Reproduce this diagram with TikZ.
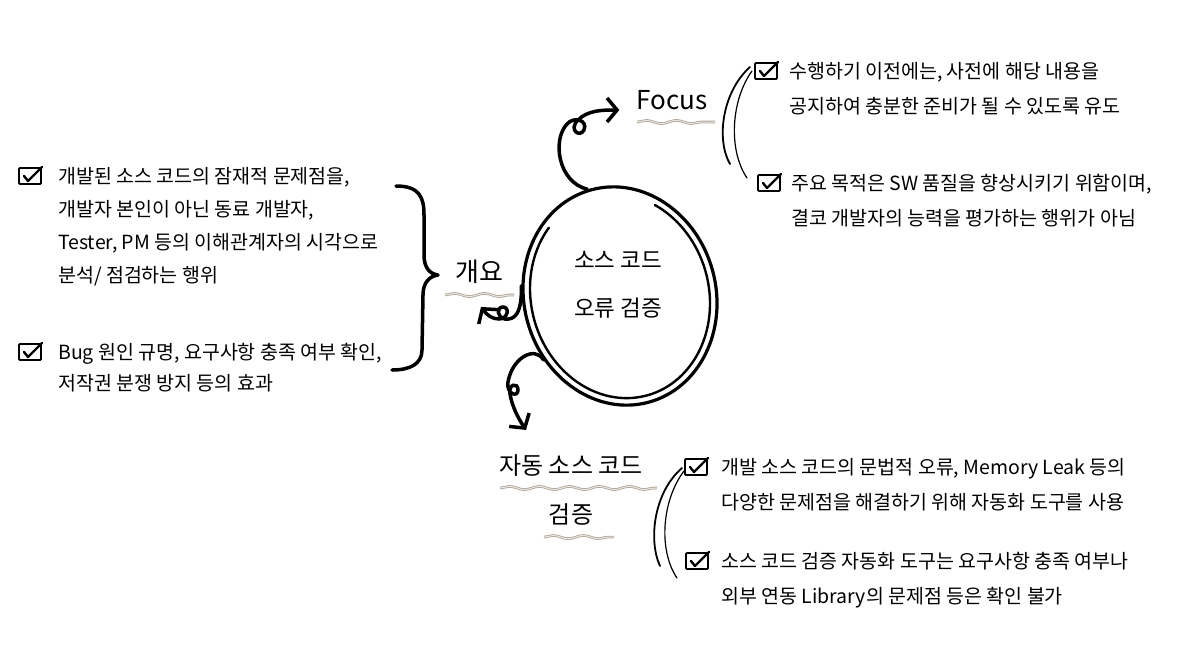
\documentclass[tikz,border=0pt]{standalone}
\usepackage{fontspec}
\setmainfont{Noto Sans CJK KR}
\usepackage{tikz}
\usetikzlibrary{
    calc,positioning,arrows.meta,shapes.geometric,%
    decorations.pathmorphing
}
\definecolor{wavegray}{RGB}{176,162,148}
\tikzset{
    core/.style={ellipse, draw=black, line width=3.2pt, minimum width=192pt, minimum height=220pt, inner sep=0pt, rotate=15},
    title/.style={align=center, inner sep=0pt, font=\fontsize{22.5}{48}\selectfont},
    topic/.style={inner sep=2pt, font=\fontsize{24}{28}\selectfont},
    item/.style={anchor=north west, inner sep=0pt, align=left, font=\fontsize{19.5}{#1}\selectfont},
    item/.default=34,
    chk/.style={rectangle, draw=black, line width=1.8pt, rounded corners=1pt, minimum width=22pt, minimum height=16pt, inner sep=0pt},
    tickmark/.style={line width=2.4pt, line cap=round, line join=round},
    line/.style={-{Straight Barb[length=10pt,width=24pt]}, line width=3.5pt, line cap=round},
    ring/.style={line width=2.4pt, line cap=round},
    arcline/.style={line width=1.8pt, line cap=round},
    bracepath/.style={line width=3.5pt, line cap=round, line join=round},
    squiggle/.style={draw=wavegray, line width=0.8pt, double=wavegray!25, double distance=1pt, decorate, decoration={snake, segment length=30pt, amplitude=1.6pt}},
}

\begin{document}
\begin{tikzpicture}[x=1pt, y=-1pt]
    \useasboundingbox (0,0) rectangle (1192,667);

    % Centre topic
    \node[core] (core) at (620,296) {};
    \node[title] (coretext) at (618,285) {소스 코드\\오류 검증};
    \begin{scope}[shift={(core.center)}, rotate=15]
        \draw[ring] (-125:89 and 103) arc[start angle=-125, end angle=-410, x radius=89, y radius=103];
    \end{scope}

    % Branch labels
    \node[topic, font=\fontsize{26}{30}\selectfont] (focus) at (672,100) {Focus};
    \node[topic, font=\fontsize{26}{30}\selectfont] (overview) at (479,272) {개요};
    \node[topic] (auto1) at (571,466) {자동 소스 코드};
    \node[topic, below=22pt of auto1] (auto2) {검증};

    % Wavy underlines
    \draw[squiggle] ($(focus.center)+(-35,22)$) -- ($(focus.center)+(43,22)$);
    \draw[squiggle] ($(overview.center)+(-34,23)$) -- ($(overview.center)+(35,23)$);
    \draw[squiggle] ($(auto1.center)+(-71,22)$) -- ($(auto1.center)+(86,22)$);
    \draw[squiggle] ($(auto2.center)+(-27,23)$) -- ($(auto2.center)+(43,23)$);

    % Arrows out of the centre
    \draw[line] (core.92) .. controls (558,182) and (552,140) .. (567,124)
        .. controls (574,116) and (588,120) .. (584,130)
        .. controls (580,138) and (568,130) .. (578,120)
        .. controls (588,110) and (603,110) .. ([xshift=-15pt,yshift=-10pt]focus.west);
    \draw[line] (core.159) .. controls (522,315) and (514,320) .. (505,319)
        .. controls (497,318) and (496,307) .. (503,307)
        .. controls (510,307) and (508,319) .. (499,319)
        .. controls (492,319) and (487,315) .. ([xshift=2pt,yshift=-21pt]overview.south);
    \draw[line] (core.205) .. controls (535,345) and (512,358) .. (508,382)
        .. controls (506,394) and (518,398) .. (518,390)
        .. controls (518,382) and (508,384) .. (510,394)
        .. controls (512,406) and (518,418) .. ([xshift=-45pt,yshift=23pt]auto1.north);

    % Overview items
    \node[chk] (lc1) at (30,176) {};
    \node[item=33] (li1) at (58,167) {개발된 소스 코드의 잠재적 문제점을,\\개발자 본인이 아닌 동료 개발자,\\Tester, PM 등의 이해관계자의 시각으로\\분석/ 점검하는 행위};
    \node[chk] (lc2) at (30,352) {};
    \node[item=31] (li2) at (58,343) {Bug 원인 규명, 요구사항 충족 여부 확인,\\저작권 분쟁 방지 등의 효과};

    % Brace
    \draw[bracepath] (396,186) .. controls (420,186) and (424,198) .. (424,215) -- (424,255)
        .. controls (424,268) and (430,274) .. (438,275)
        .. controls (430,276) and (423,282) .. (423,295) -- (422,350)
        .. controls (422,364) and (410,370) .. (392,370);

    % Focus items
    \node[chk] (fc1) at (766,71) {};
    \node[item=35] (fi1) at (789,62) {수행하기 이전에는, 사전에 해당 내용을\\공지하여 충분한 준비가 될 수 있도록 유도};
    \node[chk] (fc2) at (769,183) {};
    \node[item=35] (fi2) at (791,174) {주요 목적은 SW 품질을 향상시키기 위함이며,\\결코 개발자의 능력을 평가하는 행위가 아님};
    \draw[arcline] (750,67) .. controls (722,92) and (716,140) .. (730,164);
    \draw[arcline, line width=1.2pt] (752,71) .. controls (731,100) and (728,150) .. (747,178);

    % Automation items
    \node[chk] (ac1) at (696,467) {};
    \node[item=35] (ai1) at (721,458) {개발 소스 코드의 문법적 오류, Memory Leak 등의\\다양한 문제점을 해결하기 위해 자동화 도구를 사용};
    \node[chk] (ac2) at (697,561) {};
    \node[item=35] (ai2) at (721,552) {소스 코드 검증 자동화 도구는 요구사항 충족 여부나\\외부 연동 Library의 문제점 등은 확인 불가};
    \draw[arcline] (682,468) .. controls (654,492) and (648,540) .. (660,566);
    \draw[arcline, line width=1.2pt] (684,471) .. controls (662,500) and (658,550) .. (677,578);

    % Check marks
    \foreach \c in {lc1,lc2,fc1,fc2,ac1,ac2}
        \draw[tickmark] ($(\c.center)+(-6,0)$) -- ($(\c.center)+(-2,5)$) -- ($(\c.center)+(12,-9)$);
\end{tikzpicture}
\end{document}
